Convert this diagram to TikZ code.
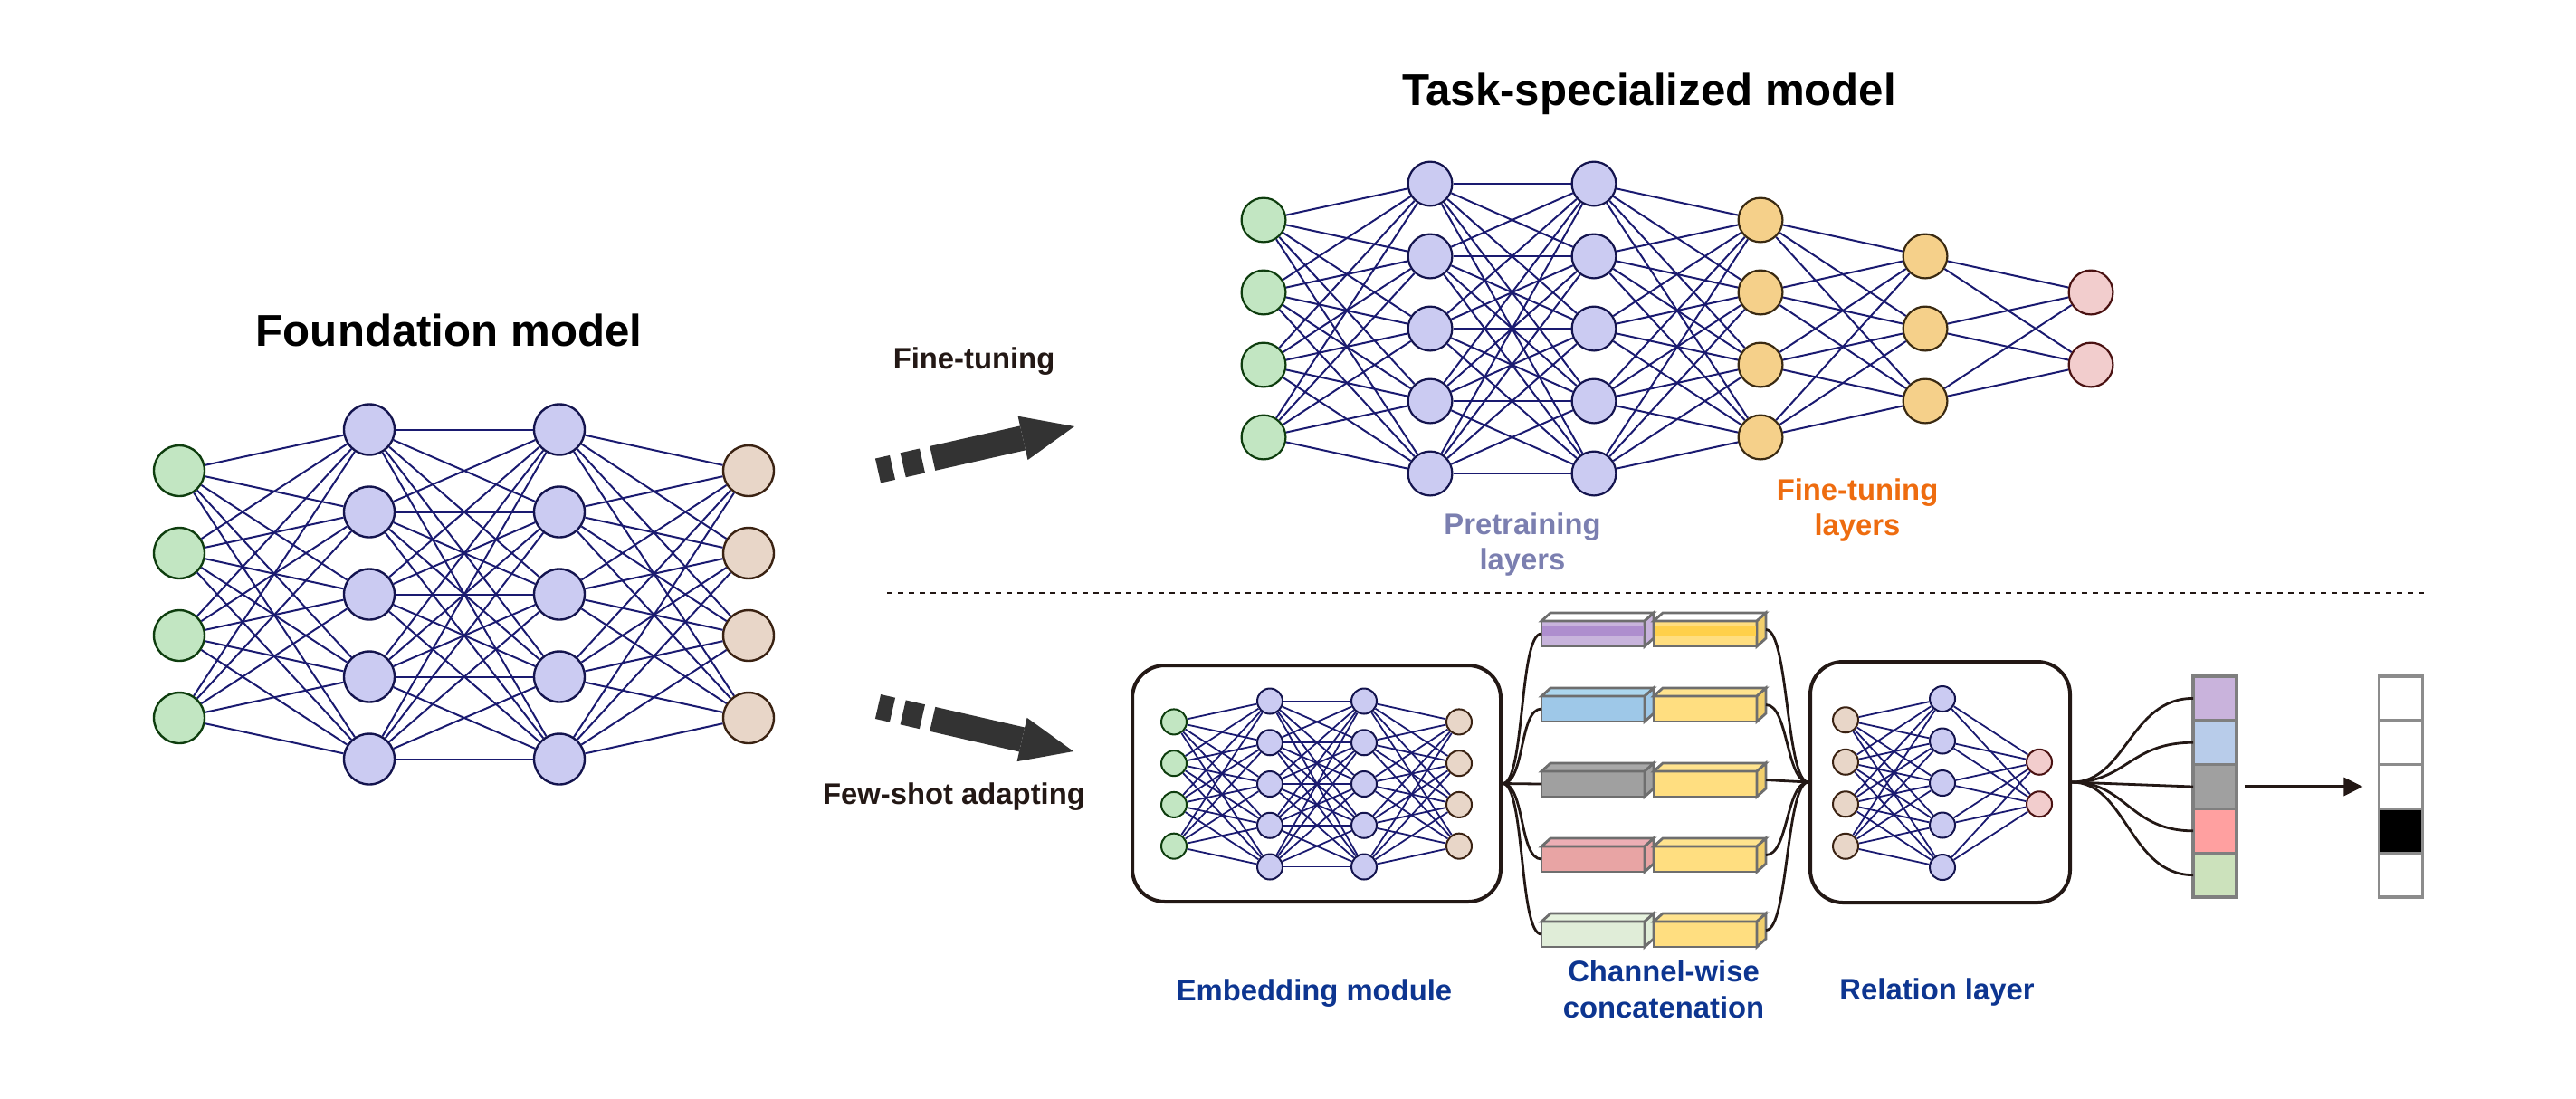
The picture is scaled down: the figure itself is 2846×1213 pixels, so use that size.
\documentclass[tikz,border=0pt]{standalone}
\usepackage{fontspec}
\setmainfont{Liberation Sans}
\usetikzlibrary{arrows.meta,positioning,calc}
\definecolor{ngreen}{HTML}{C2E6C2}
\definecolor{dgreen}{HTML}{0E3D0E}
\definecolor{nlav}{HTML}{CBCBF2}
\definecolor{dlav}{HTML}{14144E}
\definecolor{nbeige}{HTML}{E8D6C8}
\definecolor{dbeige}{HTML}{3A2212}
\definecolor{norange}{HTML}{F5D08A}
\definecolor{dorange}{HTML}{3A2A12}
\definecolor{npink}{HTML}{F2CDCD}
\definecolor{dpink}{HTML}{4A1212}
\definecolor{edgeblue}{HTML}{1A1A70}
\definecolor{wirecol}{HTML}{231815}
\definecolor{arrowgray}{HTML}{333333}
\definecolor{txtblue}{HTML}{0D3590}
\definecolor{txtpre}{HTML}{7B7FB0}
\definecolor{txtfine}{HTML}{EE6C0F}
\definecolor{blockline}{HTML}{6E6E6E}
\definecolor{bpurple}{HTML}{C8B4DC}
\definecolor{bpurpled}{HTML}{AE8ECE}
\definecolor{bblue}{HTML}{9EC8E8}
\definecolor{bbluet}{HTML}{ACD6EE}
\definecolor{bgray}{HTML}{A0A0A0}
\definecolor{bgrayt}{HTML}{A8A8A8}
\definecolor{bred}{HTML}{E8A4A4}
\definecolor{bredt}{HTML}{ECAEB4}
\definecolor{bgreen}{HTML}{E0EDD8}
\definecolor{bgreent}{HTML}{E6F2DE}
\definecolor{byellow}{HTML}{FFDE80}
\definecolor{byellowd}{HTML}{FFD04A}
\definecolor{byellowt}{HTML}{FFE38E}
\definecolor{byellows}{HTML}{F2CF6C}
\definecolor{sc1}{HTML}{C9B3DC}
\definecolor{sc2}{HTML}{B8CCEA}
\definecolor{sc3}{HTML}{A0A0A0}
\definecolor{sc4}{HTML}{FFA0A0}
\definecolor{sc5}{HTML}{CCE2BC}
\definecolor{cellgray}{HTML}{7F7F7F}
\definecolor{resgray}{HTML}{8C8C8C}

\newcommand\ttlfont{\fontsize{12.3pt}{14pt}\selectfont\bfseries}
\newcommand\lblfont{\fontsize{8.2pt}{9.8pt}\selectfont\bfseries}
\newcommand\mlayer[6]{\foreach \k in {1,...,#4}{\node[#6] (#1-\k) at (#2,{#3+(\k-1)*#5}) {};}}
\newcommand\mlink[5]{\foreach \p in {1,...,#2}{\foreach \q in {1,...,#4}{\draw[#5] (#1-\p) -- (#3-\q);}}}
\newcommand\boxtops[3]{%
  \filldraw[draw=blockline, line width=0.7pt, fill=#2] (#1.north west) -- ++(10,-9) -- ++(114,0) -- (#1.north east) -- cycle;
  \filldraw[draw=blockline, line width=0.7pt, fill=#3] (#1.north east) -- ++(10,-9) -- ++(0,28) -- (#1.south east) -- cycle;}

\begin{document}
\begin{tikzpicture}[x=0.25pt, y=-0.25pt, >=Stealth,
  neuron/.style={circle, draw, inner sep=0pt, line width=0.6pt},
  nbig/.style={neuron, minimum size=14pt},
  nmid/.style={neuron, minimum size=12.2pt, line width=0.55pt},
  nsmall/.style={neuron, minimum size=7pt, line width=0.5pt},
  gN/.style={fill=ngreen, draw=dgreen},
  lN/.style={fill=nlav, draw=dlav},
  bN/.style={fill=nbeige, draw=dbeige},
  oN/.style={fill=norange, draw=dorange},
  pN/.style={fill=npink, draw=dpink},
  link/.style={edgeblue, line width=0.5pt},
  slink/.style={edgeblue, line width=0.45pt},
  modbox/.style={draw=wirecol, line width=1pt, rounded corners=9pt, inner sep=0pt},
  blockfront/.style={draw=blockline, line width=0.7pt, minimum width=28.5pt, minimum height=7pt, inner sep=0pt, outer sep=0pt},
  wire/.style={wirecol, line width=0.7pt},
  fatarrow/.style={arrowgray, line width=6.9pt, dash pattern=on 4.1pt off 3pt on 5.45pt off 2.9pt on 100pt off 1pt,
    -{Triangle[width=12.4pt, length=14.6pt, line width=0pt]}},
  cell/.style={line width=0.8pt, minimum width=12pt, minimum height=12.2pt, inner sep=0pt, outer sep=0pt},
  ttl/.style={font=\ttlfont, anchor=base},
  lbl/.style={font=\lblfont, anchor=base, text=wirecol}]
  \useasboundingbox (0,0) rectangle (2846,1213);

  \node[ttl] (found) at (496,382) {Foundation model};
  \mlayer{fin}{198}{520}{4}{91}{nbig, gN}
  \mlayer{fh1}{408}{474.5}{5}{91}{nbig, lN}
  \mlayer{fh2}{618}{474.5}{5}{91}{nbig, lN}
  \mlayer{fout}{827}{520}{4}{91}{nbig, bN}
  \mlink{fin}{4}{fh1}{5}{link}
  \mlink{fh1}{5}{fh2}{5}{link}
  \mlink{fh2}{5}{fout}{4}{link}

  \node[lbl] (ft) at (1076,407) {Fine-tuning};
  \node[lbl] (fs) at (1054,888) {Few-shot adapting};
  \coordinate (up0) at (970,520);
  \coordinate (up1) at (1187,471);
  \coordinate (dn0) at (970,780.5);
  \coordinate (dn1) at (1186,830);
  \draw[fatarrow] (up0) -- (up1);
  \draw[fatarrow] (dn0) -- (dn1);

  \node[ttl] (task) at (1822,116) {Task-specialized model};
  \mlayer{tin}{1396}{243}{4}{80}{nmid, gN}
  \mlayer{tp1}{1580}{203}{5}{80}{nmid, lN}
  \mlayer{tp2}{1761}{203}{5}{80}{nmid, lN}
  \mlayer{tf1}{1945}{243}{4}{80}{nmid, oN}
  \mlayer{tf2}{2127}{283}{3}{80}{nmid, oN}
  \mlayer{tout}{2310}{323}{2}{80}{nmid, pN}
  \mlink{tin}{4}{tp1}{5}{link}
  \mlink{tp1}{5}{tp2}{5}{link}
  \mlink{tp2}{5}{tf1}{4}{link}
  \mlink{tf1}{4}{tf2}{3}{link}
  \mlink{tf2}{3}{tout}{2}{link}
  \node[lbl, text=txtpre] (pre1) at (1682,590) {Pretraining};
  \node[lbl, text=txtpre] (pre2) at (1682,629) {layers};
  \node[lbl, text=txtfine] (fine1) at (2052,552) {Fine-tuning};
  \node[lbl, text=txtfine] (fine2) at (2052,591) {layers};

  \draw[wirecol, line width=0.6pt, dash pattern=on 1.5pt off 1.5pt] (980,655) -- (2679,655);

  \node[modbox, minimum width=101.75pt, minimum height=65.25pt] (emb) at (1454.5,865.5) {};
  \mlayer{ein}{1297}{797.4}{4}{45.75}{nsmall, gN}
  \mlayer{eh1}{1403}{774.5}{5}{45.75}{nsmall, lN}
  \mlayer{eh2}{1507}{774.5}{5}{45.75}{nsmall, lN}
  \mlayer{eout}{1612}{797.4}{4}{45.75}{nsmall, bN}
  \mlink{ein}{4}{eh1}{5}{slink}
  \mlink{eh1}{5}{eh2}{5}{slink}
  \mlink{eh2}{5}{eout}{4}{slink}

  \foreach \r/\yy/\cf/\ct/\yt in {1/686/bpurple/white/white, 2/769/bblue/bbluet/byellowt, 3/852/bgray/bgrayt/byellowt,
      4/935/bred/bredt/byellowt, 5/1018/bgreen/bgreent/byellowt} {
    \node[blockfront, fill=\cf, anchor=north west] (L\r) at (1703,\yy) {};
    \node[blockfront, fill=byellow, anchor=north west] (R\r) at (1827,\yy) {};
    \boxtops{L\r}{\ct}{\cf}
    \boxtops{R\r}{\yt}{byellows}
  }
  \fill[bpurpled] ($(L1.north west)+(1,5)$) rectangle ($(L1.north east)+(-1,17)$);
  \fill[byellowd] ($(R1.north west)+(1,5)$) rectangle ($(R1.north east)+(-1,17)$);
  \draw[blockline, line width=0.7pt] (L1.north west) rectangle (L1.south east);
  \draw[blockline, line width=0.7pt] (R1.north west) rectangle (R1.south east);

  \node[modbox, minimum width=71.75pt, minimum height=66.5pt] (rel) at (2143.5,864) {};
  \mlayer{rin}{2039}{795.25}{4}{46.5}{nsmall, bN}
  \mlayer{rh}{2146}{772}{5}{46.5}{nsmall, lN}
  \mlayer{rout}{2253}{841.75}{2}{46.5}{nsmall, pN}
  \mlink{rin}{4}{rh}{5}{slink}
  \mlink{rh}{5}{rout}{2}{slink}

  \foreach \r in {1,2,4,5} {
    \draw[wire] (emb.east) .. controls +(25,0) and +(-25,0) .. (L\r.west);
    \draw[wire] ($(R\r.east)+(10,-4.5)$) .. controls +(25,0) and +(-25,0) .. (rel.west);
  }
  \draw[wire] (emb.east) -- (L3.west);
  \draw[wire] ($(R3.east)+(10,-4.5)$) -- (rel.west);

  \node[cell, draw=cellgray, fill=sc1] (S1) at (2447,771.4) {};
  \node[cell, draw=cellgray, fill=sc2, below=0pt of S1] (S2) {};
  \node[cell, draw=cellgray, fill=sc3, below=0pt of S2] (S3) {};
  \node[cell, draw=cellgray, fill=sc4, below=0pt of S3] (S4) {};
  \node[cell, draw=cellgray, fill=sc5, below=0pt of S4] (S5) {};
  \node[cell, draw=resgray, fill=white] (T1) at (2652.5,771.4) {};
  \node[cell, draw=resgray, fill=white, below=0pt of T1] (T2) {};
  \node[cell, draw=resgray, fill=white, below=0pt of T2] (T3) {};
  \node[cell, draw=resgray, fill=black, below=0pt of T3] (T4) {};
  \node[cell, draw=resgray, fill=white, below=0pt of T4] (T5) {};

  \foreach \r in {1,2,4,5}
    \draw[wire] (rel.east) .. controls +(60,0) and +(-70,0) .. (S\r.west);
  \draw[wire] (rel.east) -- (S3.west);
  \draw[wirecol, line width=0.85pt, -{Triangle[width=5pt, length=5.3pt]}, shorten <=2.2pt, shorten >=4.5pt] (S3.east) -- (T3.west);

  \node[lbl, text=txtblue] (embl) at (1452,1105) {Embedding module};
  \node[lbl, text=txtblue] (cat1) at (1838,1084) {Channel-wise};
  \node[lbl, text=txtblue] (cat2) at (1838,1124) {concatenation};
  \node[lbl, text=txtblue] (rell) at (2140,1104) {Relation layer};
\end{tikzpicture}
\end{document}
